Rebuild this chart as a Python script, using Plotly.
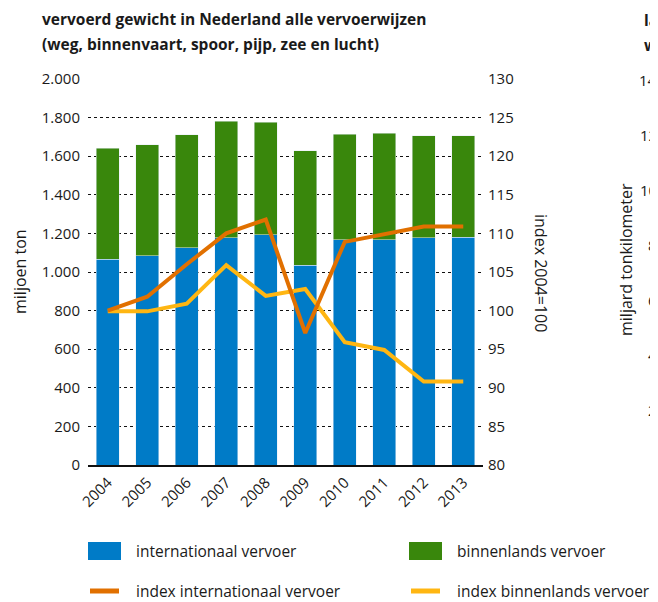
import plotly.graph_objects as go

years = ["2004", "2005", "2006", "2007", "2008", "2009", "2010", "2011", "2012", "2013"]
internationaal = [1067, 1085, 1126, 1178, 1192, 1036, 1167, 1167, 1178, 1181]
binnenlands = [575, 575, 585, 604, 585, 591, 548, 553, 528, 525]
index_internationaal = [100.0, 101.8, 106.0, 110.0, 111.8, 97.1, 108.9, 109.9, 110.9, 110.9]
index_binnenlands = [99.9, 99.9, 100.9, 105.9, 101.9, 102.8, 95.9, 94.9, 90.8, 90.8]
left_ticks = list(range(0, 2001, 200))
right_ticks = list(range(80, 131, 5))

BLUE = "#007BC7"
GREEN = "#39870C"
ORANGE = "#E17000"
YELLOW = "#FFB612"
FONT = "Open Sans"
TXT = "#1a1a1a"

# page body has an 8px default margin: work in page pixels, convert to figure pixels
OFF = 8
W, H = 658 - OFF, 602 - OFF
L, R, T, B = 88, 483, 79, 465  # plot area in page pixels


def px(x):
    return (x - L) / (R - L)


def py(y):
    return (B - y) / (B - T)


fig = go.Figure()
fig.add_trace(go.Bar(x=years, y=internationaal, marker_color=BLUE, name="internationaal vervoer"))
fig.add_trace(go.Bar(x=years, y=binnenlands, marker_color=GREEN, name="binnenlands vervoer"))
fig.add_trace(go.Scatter(x=years, y=index_binnenlands, yaxis="y2", mode="lines",
                         line=dict(color=YELLOW, width=4), name="index binnenlands vervoer"))
fig.add_trace(go.Scatter(x=years, y=index_internationaal, yaxis="y2", mode="lines",
                         line=dict(color=ORANGE, width=4), name="index internationaal vervoer"))

fig.update_layout(
    width=W, height=H,
    margin=dict(l=L - OFF, r=658 - R, t=T - OFF, b=602 - B, pad=0),
    paper_bgcolor="white", plot_bgcolor="white",
    barmode="stack", bargap=0.42,
    showlegend=False,
    separators=",.",
    font=dict(family=FONT, size=15, color=TXT),
    xaxis=dict(type="category", tickangle=-45, showgrid=False, ticks="",
               showline=True, linecolor="#111", linewidth=2,
               tickfont=dict(size=15), ticklabelstandoff=1),
    yaxis=dict(range=[0, 2000], tickvals=left_ticks, tickformat=",d",
               showgrid=True, gridcolor="#111", gridwidth=1, griddash="3px,3px",
               zeroline=False, showline=False, ticks="", ticklabelstandoff=7),
    yaxis2=dict(range=[80, 130], tickvals=right_ticks, overlaying="y", side="right",
                showgrid=False, zeroline=False, showline=False, ticks="",
                ticklabelstandoff=4),
)

ann = []
ann.append(dict(text="<b>vervoerd gewicht in Nederland alle vervoerwijzen</b>", x=px(40), y=py(19),
                xanchor="left", yanchor="middle", font=dict(size=15.5)))
ann.append(dict(text="<b>(weg, binnenvaart, spoor, pijp, zee en lucht)</b>", x=px(40), y=py(44),
                xanchor="left", yanchor="middle", font=dict(size=15.5)))
ann.append(dict(text="miljoen ton", x=px(20), y=py(272), textangle=-90,
                xanchor="center", yanchor="middle", font=dict(size=16)))
ann.append(dict(text="index 2004=100", x=px(541), y=py(273), textangle=90,
                xanchor="center", yanchor="middle", font=dict(size=16)))
# neighbouring chart, cut off at the right edge of the picture
ann.append(dict(text="<b>la</b>", x=px(642), y=py(20), xanchor="left", yanchor="middle", font=dict(size=15.5)))
ann.append(dict(text="<b>w</b>", x=px(642), y=py(45), xanchor="left", yanchor="middle", font=dict(size=15.5)))
ann.append(dict(text="miljard tonkilometer", x=px(626), y=py(260), textangle=-90,
                xanchor="center", yanchor="middle", font=dict(size=16)))
for lab, yy in zip(["14", "12", "10", "8", "6", "4", "2"], [80, 135, 190, 245, 300, 355, 410]):
    ann.append(dict(text=lab, x=px(659), y=py(yy), xanchor="right", yanchor="middle", font=dict(size=15)))

# legend
leg = [(88, 551, "rect", BLUE, "internationaal vervoer"),
       (409, 551, "rect", GREEN, "binnenlands vervoer"),
       (88, 591, "line", ORANGE, "index internationaal vervoer"),
       (409, 591, "line", YELLOW, "index binnenlands vervoer")]
shapes = []
for x0, yc, kind, col, lab in leg:
    if kind == "rect":
        shapes.append(dict(type="rect", xref="paper", yref="paper", x0=px(x0), x1=px(x0 + 33),
                           y0=py(yc + 9), y1=py(yc - 9), fillcolor=col, line=dict(width=0)))
    else:
        shapes.append(dict(type="line", xref="paper", yref="paper", x0=px(x0 + 2), x1=px(x0 + 31),
                           y0=py(yc), y1=py(yc), line=dict(color=col, width=5)))
    ann.append(dict(text=lab, x=px(x0 + 46), y=py(yc), xanchor="left", yanchor="middle",
                    font=dict(size=15.5)))

for a in ann:
    a.update(xref="paper", yref="paper", showarrow=False)
fig.update_layout(annotations=ann, shapes=shapes)

fig.write_html("out.html")
